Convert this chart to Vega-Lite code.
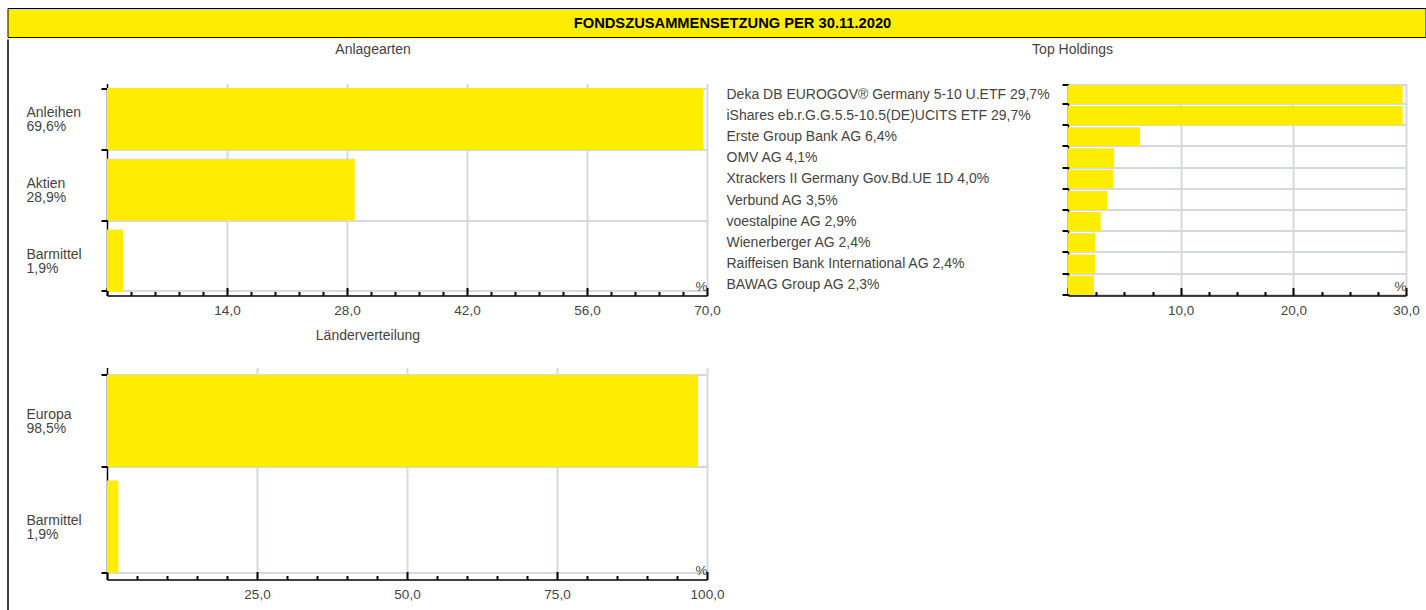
{
  "$schema": "https://vega.github.io/schema/vega-lite/v6.json",
  "padding": {"left": 6.5, "top": 7, "right": 0, "bottom": 0},
  "background": "white",
  "config": {
    "font": "Liberation Sans",
    "view": {"stroke": null},
    "axis": {
      "labelFont": "Liberation Sans", "labelColor": "#444", "labelFontSize": 13.5,
      "domainColor": "#000", "domainWidth": 1.5, "tickColor": "#000", "tickWidth": 2,
      "gridColor": "#D5D8E0", "gridWidth": 2,
      "titleFont": "Liberation Sans", "titleColor": "#444", "titleFontWeight": "normal", "titleFontSize": 13.5
    },
    "title": {"font": "Liberation Sans", "fontSize": 14, "fontWeight": "normal", "color": "#444", "anchor": "middle", "frame": "bounds", "offset": 19.5}
  },
  "spacing": 0,
  "vconcat": [
    {
      "width": 1418, "height": 29,
      "view": {"fill": "#FFED00", "stroke": "#000", "strokeWidth": 1},
      "data": {"values": [{"t": "FONDSZUSAMMENSETZUNG PER 30.11.2020"}]},
      "mark": {"type": "text", "font": "Liberation Sans", "fontWeight": "bold", "fontSize": 14.7, "color": "#000", "dx": 16, "dy": 1, "align": "center", "baseline": "middle"},
      "encoding": {"text": {"field": "t", "type": "nominal"}}
    },
    {
      "spacing": 17.5,
      "hconcat": [
        {
          "width": 0.01, "height": 572,
          "view": {"stroke": "#000", "strokeWidth": 1},
          "data": {"values": [{"t": ""}]},
          "mark": {"type": "text", "fontSize": 0},
          "encoding": {"text": {"field": "t", "type": "nominal"}}
        },
        {
          "spacing": 2.5,
          "vconcat": [
            {
              "width": 0.01, "height": 0.01,
              "data": {"values": [{"t": ""}]},
              "mark": {"type": "text", "fontSize": 0},
              "encoding": {"text": {"field": "t", "type": "nominal"}}
            },
            {
              "spacing": 7,
              "vconcat": [
                {
                  "spacing": 5,
                  "hconcat": [
                    {
                      "title": "Anlagearten",
                      "width": 600, "height": 212,
                      "data": {"values": [
                        {"label": "Anleihen|69,6%", "value": 69.6},
                        {"label": "Aktien|28,9%", "value": 28.9},
                        {"label": "Barmittel|1,9%", "value": 1.9}
                      ]},
                      "mark": {"type": "bar", "color": "#FFED00"},
                      "encoding": {
                        "y": {"field": "label", "type": "nominal", "sort": null,
                          "scale": {"paddingInner": 0.13, "paddingOuter": 0.065},
                          "axis": {"title": null, "labelExpr": "datum.value ? split(datum.value, '|') : ''", "labelAlign": "left", "labelBaseline": "middle", "labelFontSize": 14, "labelLineHeight": 14, "labelOffset": -6, "labelPadding": 75, "tickSize": 6, "tickBand": "extent", "grid": true, "labelLimit": 300}},
                        "x": {"field": "value", "type": "quantitative",
                          "scale": {"domain": [0, 70], "nice": false},
                          "axis": {"values": [0,2.8,5.6,8.4,11.2,14,16.8,19.6,22.4,25.2,28,30.8,33.6,36.4,39.2,42,44.8,47.6,50.4,53.2,56,58.8,61.6,64.4,67.2,70],
                            "labelExpr": "datum.value > 0 && datum.value % 14 == 0 ? replace(format(datum.value, '.1f'), '.', ',') : ''",
                            "labelFlush": false, "labelOverlap": false, "labelPadding": 16,
                            "tickSize": {"condition": {"test": "datum.value % 14 == 0", "value": -8}, "value": -4},
                            "grid": true,
                            "gridOpacity": {"condition": {"test": "datum.value > 0 && datum.value % 14 == 0", "value": 1}, "value": 0},
                            "title": "%", "titleAnchor": "end", "titleAlign": "right", "titleBaseline": "alphabetic", "titleY": -5}}
                      }
                    },
                    {
                      "title": "Top Holdings",
                      "width": 338, "height": 212,
                      "data": {"values": [
                        {"name": "Deka DB EUROGOV® Germany 5-10 U.ETF 29,7%", "value": 29.7},
                        {"name": "iShares eb.r.G.G.5.5-10.5(DE)UCITS ETF 29,7%", "value": 29.7},
                        {"name": "Erste Group Bank AG 6,4%", "value": 6.4},
                        {"name": "OMV AG 4,1%", "value": 4.1},
                        {"name": "Xtrackers II Germany Gov.Bd.UE 1D 4,0%", "value": 4.0},
                        {"name": "Verbund AG 3,5%", "value": 3.5},
                        {"name": "voestalpine AG 2,9%", "value": 2.9},
                        {"name": "Wienerberger AG 2,4%", "value": 2.4},
                        {"name": "Raiffeisen Bank International AG 2,4%", "value": 2.4},
                        {"name": "BAWAG Group AG 2,3%", "value": 2.3}
                      ]},
                      "mark": {"type": "bar", "color": "#FFED00"},
                      "encoding": {
                        "y": {"field": "name", "type": "nominal", "sort": null,
                          "scale": {"paddingInner": 0.12, "paddingOuter": 0.06},
                          "axis": {"title": null, "labelExpr": "datum.value ? datum.value : ''", "labelAlign": "left", "labelBaseline": "middle", "labelFontSize": 14, "labelPadding": 336, "tickSize": 6, "tickBand": "extent", "grid": true, "labelLimit": 400}},
                        "x": {"field": "value", "type": "quantitative",
                          "scale": {"domain": [0, 30], "nice": false},
                          "axis": {"values": [0,2.5,5,7.5,10,12.5,15,17.5,20,22.5,25,27.5,30],
                            "labelExpr": "datum.value > 0 && datum.value % 10 == 0 ? replace(format(datum.value, '.1f'), '.', ',') : ''",
                            "labelFlush": false, "labelOverlap": false, "labelPadding": 16,
                            "tickSize": {"condition": {"test": "datum.value % 10 == 0", "value": -8}, "value": -4},
                            "grid": true,
                            "gridOpacity": {"condition": {"test": "datum.value > 0 && datum.value % 10 == 0", "value": 1}, "value": 0},
                            "title": "%", "titleAnchor": "end", "titleAlign": "right", "titleBaseline": "alphabetic", "titleY": -5}}
                      }
                    }
                  ]
                },
                {
                  "title": {"text": "Länderverteilung", "dx": -7, "offset": 18},
                  "width": 600, "height": 212,
                  "data": {"values": [
                    {"label": "Europa|98,5%", "value": 98.5},
                    {"label": "Barmittel|1,9%", "value": 1.9}
                  ]},
                  "mark": {"type": "bar", "color": "#FFED00"},
                  "encoding": {
                    "y": {"field": "label", "type": "nominal", "sort": null,
                      "scale": {"paddingInner": 0.13, "paddingOuter": 0.065},
                      "axis": {"title": null, "labelExpr": "datum.value ? split(datum.value, '|') : ''", "labelAlign": "left", "labelBaseline": "middle", "labelFontSize": 14, "labelLineHeight": 14, "labelOffset": -6, "labelPadding": 75, "tickSize": 6, "tickBand": "extent", "grid": true, "labelLimit": 300}},
                    "x": {"field": "value", "type": "quantitative",
                      "scale": {"domain": [0, 100], "nice": false},
                      "axis": {"values": [0,5,10,15,20,25,30,35,40,45,50,55,60,65,70,75,80,85,90,95,100],
                        "labelExpr": "datum.value > 0 && datum.value % 25 == 0 ? replace(format(datum.value, '.1f'), '.', ',') : ''",
                        "labelFlush": false, "labelOverlap": false, "labelPadding": 16,
                        "tickSize": {"condition": {"test": "datum.value % 25 == 0", "value": -8}, "value": -4},
                        "grid": true,
                        "gridOpacity": {"condition": {"test": "datum.value > 0 && datum.value % 25 == 0", "value": 1}, "value": 0},
                        "title": "%", "titleAnchor": "end", "titleAlign": "right", "titleBaseline": "alphabetic", "titleY": -5}}
                  }
                }
              ]
            }
          ]
        }
      ]
    }
  ]
}
